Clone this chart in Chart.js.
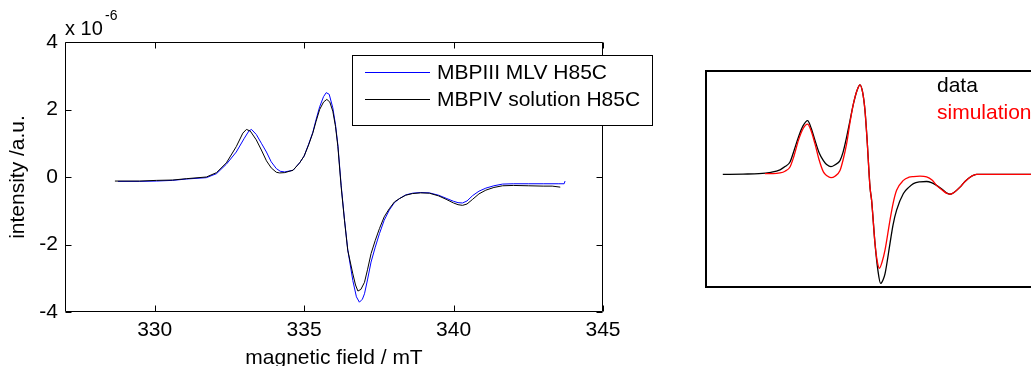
<!DOCTYPE html>
<html>
<head>
<meta charset="utf-8">
<script src="https://cdn.jsdelivr.net/npm/chart.js@4/dist/chart.umd.min.js"></script>
<style>
  html, body { margin: 0; padding: 0; background: #fff; }
  #wrap { position: relative; width: 1031px; height: 366px; overflow: hidden; }
  #main { position: absolute; left: 0; top: 0; }
  #inset { position: absolute; left: 700px; top: 0; }
</style>
</head>
<body>
<div id="wrap">
  <canvas id="main" width="700" height="366"></canvas>
  <canvas id="inset" width="331" height="366"></canvas>
</div>
<script>
// ---- EPR spectra (field in mT, intensity in units of 1e-6) ----
const fieldMLV = [328.77, 329.5, 330.06, 330.6, 331.06, 331.73, 332.07, 332.4, 332.73, 333.0, 333.15, 333.24, 333.4, 333.57, 333.74, 333.9, 334.07, 334.2, 334.35, 334.63, 334.85, 335.0, 335.15, 335.29, 335.4, 335.52, 335.65, 335.74, 335.84, 335.96, 336.05, 336.13, 336.24, 336.35, 336.46, 336.63, 336.75, 336.85, 336.95, 337.02, 337.12, 337.24, 337.38, 337.52, 337.68, 337.85, 338.02, 338.19, 338.4, 338.63, 338.9, 339.19, 339.5, 339.75, 340.0, 340.15, 340.3, 340.45, 340.64, 340.85, 341.08, 341.35, 341.64, 342.0, 342.5, 343.0, 343.5, 343.7, 343.73];
const intensityMLV = [-0.13, -0.13, -0.12, -0.1, -0.06, -0.02, 0.1, 0.38, 0.74, 1.15, 1.36, 1.41, 1.26, 1.0, 0.74, 0.45, 0.25, 0.17, 0.15, 0.2, 0.42, 0.62, 0.97, 1.32, 1.7, 2.08, 2.38, 2.5, 2.45, 2.05, 1.55, 0.95, -0.25, -1.25, -2.15, -3.07, -3.55, -3.71, -3.62, -3.46, -3.05, -2.52, -2.08, -1.68, -1.28, -0.98, -0.76, -0.64, -0.53, -0.48, -0.46, -0.47, -0.54, -0.63, -0.72, -0.76, -0.77, -0.71, -0.55, -0.42, -0.33, -0.26, -0.21, -0.2, -0.2, -0.2, -0.2, -0.2, -0.12];

const fieldSolution = [328.67, 329.5, 330.06, 330.6, 331.06, 331.73, 332.07, 332.4, 332.73, 332.95, 333.07, 333.2, 333.4, 333.57, 333.74, 333.9, 334.07, 334.18, 334.35, 334.63, 334.85, 335.0, 335.15, 335.29, 335.4, 335.52, 335.65, 335.76, 335.86, 335.96, 336.05, 336.13, 336.24, 336.35, 336.46, 336.63, 336.72, 336.8, 336.9, 337.02, 337.12, 337.24, 337.38, 337.52, 337.68, 337.85, 338.02, 338.19, 338.4, 338.63, 338.9, 339.19, 339.5, 339.75, 340.0, 340.15, 340.3, 340.45, 340.64, 340.85, 341.08, 341.35, 341.64, 342.0, 342.5, 343.0, 343.3, 343.57];
const intensitySolution = [-0.12, -0.12, -0.1, -0.09, -0.05, 0.0, 0.13, 0.42, 0.9, 1.3, 1.41, 1.36, 1.1, 0.8, 0.48, 0.27, 0.14, 0.12, 0.13, 0.2, 0.42, 0.62, 0.95, 1.3, 1.65, 2.0, 2.22, 2.3, 2.22, 1.95, 1.5, 0.9, -0.3, -1.28, -2.17, -2.87, -3.2, -3.38, -3.33, -3.12, -2.75, -2.27, -1.88, -1.53, -1.18, -0.94, -0.74, -0.64, -0.54, -0.49, -0.47, -0.48, -0.56, -0.66, -0.77, -0.82, -0.84, -0.8, -0.66, -0.5, -0.39, -0.31, -0.26, -0.25, -0.26, -0.27, -0.27, -0.3];

const fieldTicks = [330, 335, 340, 345];
const intensityTicks = [-4, -2, 0, 2, 4];
const seriesNames = ['MBPIII MLV H85C', 'MBPIV solution H85C'];

// ---- fit panel: measured spectrum vs. simulation (arbitrary units) ----
const fitFieldData = [328.99, 330.0, 330.8, 331.4, 331.85, 332.1, 332.35, 332.55, 332.77, 333.0, 333.23, 333.4, 333.6, 333.8, 334.02, 334.2, 334.4, 334.6, 334.85, 335.0, 335.18, 335.35, 335.52, 335.7, 335.85, 335.98, 336.1, 336.2, 336.35, 336.43, 336.6, 336.75, 336.88, 337.0, 337.1, 337.35, 337.5, 337.68, 338.02, 338.3, 338.52, 338.85, 339.18, 339.45, 339.68, 340.0, 340.2, 340.35, 340.55, 340.85, 341.1, 341.35, 341.68, 342.5, 343.3, 344.4];
const fitData = [-0.02, -0.01, 0.0, 0.04, 0.11, 0.2, 0.33, 0.65, 1.03, 1.35, 1.5, 1.3, 0.94, 0.6, 0.37, 0.25, 0.2, 0.25, 0.37, 0.6, 1.03, 1.5, 1.97, 2.35, 2.51, 2.3, 1.78, 1.0, -0.38, -0.75, -1.97, -2.75, -3.1, -3.0, -2.83, -1.97, -1.45, -1.03, -0.56, -0.38, -0.28, -0.23, -0.22, -0.26, -0.33, -0.46, -0.55, -0.58, -0.53, -0.38, -0.22, -0.1, -0.02, -0.02, -0.02, -0.02];
const fitFieldSim = [331.1, 331.5, 331.85, 332.1, 332.35, 332.55, 332.77, 333.0, 333.23, 333.4, 333.6, 333.8, 334.02, 334.2, 334.4, 334.6, 334.85, 335.0, 335.18, 335.35, 335.52, 335.7, 335.85, 335.98, 336.1, 336.2, 336.35, 336.43, 336.6, 336.72, 336.82, 336.95, 337.1, 337.35, 337.5, 337.68, 338.02, 338.3, 338.52, 338.85, 339.18, 339.45, 339.68, 340.0, 340.2, 340.35, 340.55, 340.85, 341.1, 341.35, 341.68, 342.5, 343.3, 344.4];
const fitSim = [0.0, 0.0, 0.02, 0.07, 0.19, 0.5, 0.94, 1.27, 1.4, 1.22, 0.84, 0.4, 0.05, -0.06, -0.11, -0.07, 0.09, 0.38, 0.84, 1.45, 1.97, 2.35, 2.51, 2.3, 1.78, 1.0, -0.38, -0.75, -1.97, -2.5, -2.67, -2.5, -2.16, -1.31, -0.85, -0.47, -0.19, -0.1, -0.08, -0.07, -0.09, -0.18, -0.33, -0.48, -0.56, -0.58, -0.53, -0.38, -0.22, -0.1, -0.02, -0.02, -0.02, -0.02];
const fitNames = ['data', 'simulation'];

const FONT = "'Liberation Sans', Arial, Helvetica, sans-serif";
Chart.defaults.font.family = FONT;
Chart.defaults.color = '#000';

const toPoints = (xs, ys) => xs.map((x, i) => ({ x, y: ys[i] }));

// Box frame with inward tick marks, exponent label and legend box
const axesBox = {
  id: 'axesBox',
  afterDatasetsDraw(chart) {
    const { ctx, chartArea: a, scales: { x, y } } = chart;
    const L = Math.round(a.left) + 0.5, R = Math.round(a.right) - 0.5;
    const T = Math.round(a.top) + 0.5, B = Math.round(a.bottom) - 0.5;
    ctx.save();
    ctx.strokeStyle = '#000';
    ctx.lineWidth = 1;
    ctx.beginPath();
    ctx.rect(L, T, R - L, B - T);
    x.ticks.forEach(t => {
      const px = Math.round(x.getPixelForValue(t.value)) + 0.5;
      ctx.moveTo(px, B); ctx.lineTo(px, B - 6);
      ctx.moveTo(px, T); ctx.lineTo(px, T + 6);
    });
    y.ticks.forEach(t => {
      const py = Math.round(y.getPixelForValue(t.value)) + 0.5;
      ctx.moveTo(L, py); ctx.lineTo(L + 6, py);
      ctx.moveTo(R, py); ctx.lineTo(R - 6, py);
    });
    ctx.stroke();

    // axis multiplier
    ctx.fillStyle = '#000';
    ctx.textBaseline = 'alphabetic';
    ctx.textAlign = 'left';
    ctx.font = '20px ' + FONT;
    ctx.fillText('x 10', a.left, a.top - 7);
    ctx.font = '14px ' + FONT;
    ctx.fillText('-6', a.left + 40, a.top - 22);

    // legend
    const bx = 352.5, by = 55.5, bw = 300, bh = 70;
    ctx.fillStyle = '#fff';
    ctx.fillRect(bx, by, bw, bh);
    ctx.strokeStyle = '#000';
    ctx.strokeRect(bx, by, bw, bh);
    ctx.font = '21px ' + FONT;
    ctx.textBaseline = 'middle';
    chart.data.datasets.forEach((ds, i) => {
      const ly = 72.5 + i * 27;
      ctx.strokeStyle = ds.borderColor;
      ctx.beginPath();
      ctx.moveTo(365, ly); ctx.lineTo(430, ly);
      ctx.stroke();
      ctx.fillStyle = '#000';
      ctx.fillText(ds.label, 437, ly + 1);
    });
    ctx.restore();
  }
};

new Chart(document.getElementById('main'), {
  type: 'line',
  data: {
    datasets: [
      { label: seriesNames[0], data: toPoints(fieldMLV, intensityMLV), borderColor: '#0000ff', order: 1 },
      { label: seriesNames[1], data: toPoints(fieldSolution, intensitySolution), borderColor: '#000000', order: 0 }
    ]
  },
  options: {
    responsive: false,
    animation: false,
    layout: { padding: { top: 42, right: 97, left: 0, bottom: 0 } },
    plugins: { legend: { display: false }, tooltip: { enabled: false } },
    elements: { point: { radius: 0 }, line: { borderWidth: 1, tension: 0 } },
    scales: {
      x: {
        type: 'linear', min: 327, max: 345,
        afterBuildTicks: s => { s.ticks = fieldTicks.map(v => ({ value: v })); },
        afterFit: s => { s.height = 54; },
        grid: { display: false, drawTicks: false },
        border: { display: false },
        ticks: { font: { size: 21 }, color: '#000', padding: 6, maxRotation: 0, autoSkip: false },
        title: { display: true, text: 'magnetic field / mT', font: { size: 21, lineHeight: 0.75 }, color: '#000', padding: 0 }
      },
      y: {
        type: 'linear', min: -4, max: 4,
        afterBuildTicks: s => { s.ticks = intensityTicks.map(v => ({ value: v })); },
        afterFit: s => { s.width = 65; },
        grid: { display: false, drawTicks: false },
        border: { display: false },
        ticks: { font: { size: 21 }, color: '#000', padding: 7, autoSkip: false },
        title: { display: true, text: 'intensity /a.u.', font: { size: 21, lineHeight: 1.2 }, color: '#000', padding: { top: 6, bottom: 0 } }
      }
    }
  },
  plugins: [axesBox]
});

// Frame and labels of the fit panel
const fitFrame = {
  id: 'fitFrame',
  afterDatasetsDraw(chart) {
    const { ctx, chartArea: a, width } = chart;
    ctx.save();
    ctx.strokeStyle = '#000';
    ctx.lineWidth = 2;
    ctx.beginPath();
    ctx.moveTo(width, a.top); ctx.lineTo(a.left, a.top);
    ctx.lineTo(a.left, a.bottom); ctx.lineTo(width, a.bottom);
    ctx.stroke();
    ctx.font = '21px ' + FONT;
    ctx.textBaseline = 'middle';
    ctx.textAlign = 'left';
    chart.data.datasets.forEach((ds, i) => {
      ctx.fillStyle = ds.borderColor;
      ctx.fillText(ds.label, 237, 86 + i * 27);
    });
    ctx.restore();
  }
};

new Chart(document.getElementById('inset'), {
  type: 'line',
  data: {
    datasets: [
      { label: fitNames[0], data: toPoints(fitFieldData, fitData), borderColor: '#000000', order: 1 },
      { label: fitNames[1], data: toPoints(fitFieldSim, fitSim), borderColor: '#ff0000', order: 0 }
    ]
  },
  options: {
    responsive: false,
    animation: false,
    layout: { padding: { top: 71, right: 0, left: 6, bottom: 79 } },
    plugins: { legend: { display: false }, tooltip: { enabled: false } },
    elements: { point: { radius: 0 }, line: { borderWidth: 1.3, cubicInterpolationMode: 'monotone' } },
    scales: {
      x: { type: 'linear', min: 328.15, max: 344.4, display: false },
      y: { type: 'linear', min: -3.2, max: 2.9, display: false }
    }
  },
  plugins: [fitFrame]
});
</script>
</body>
</html>
